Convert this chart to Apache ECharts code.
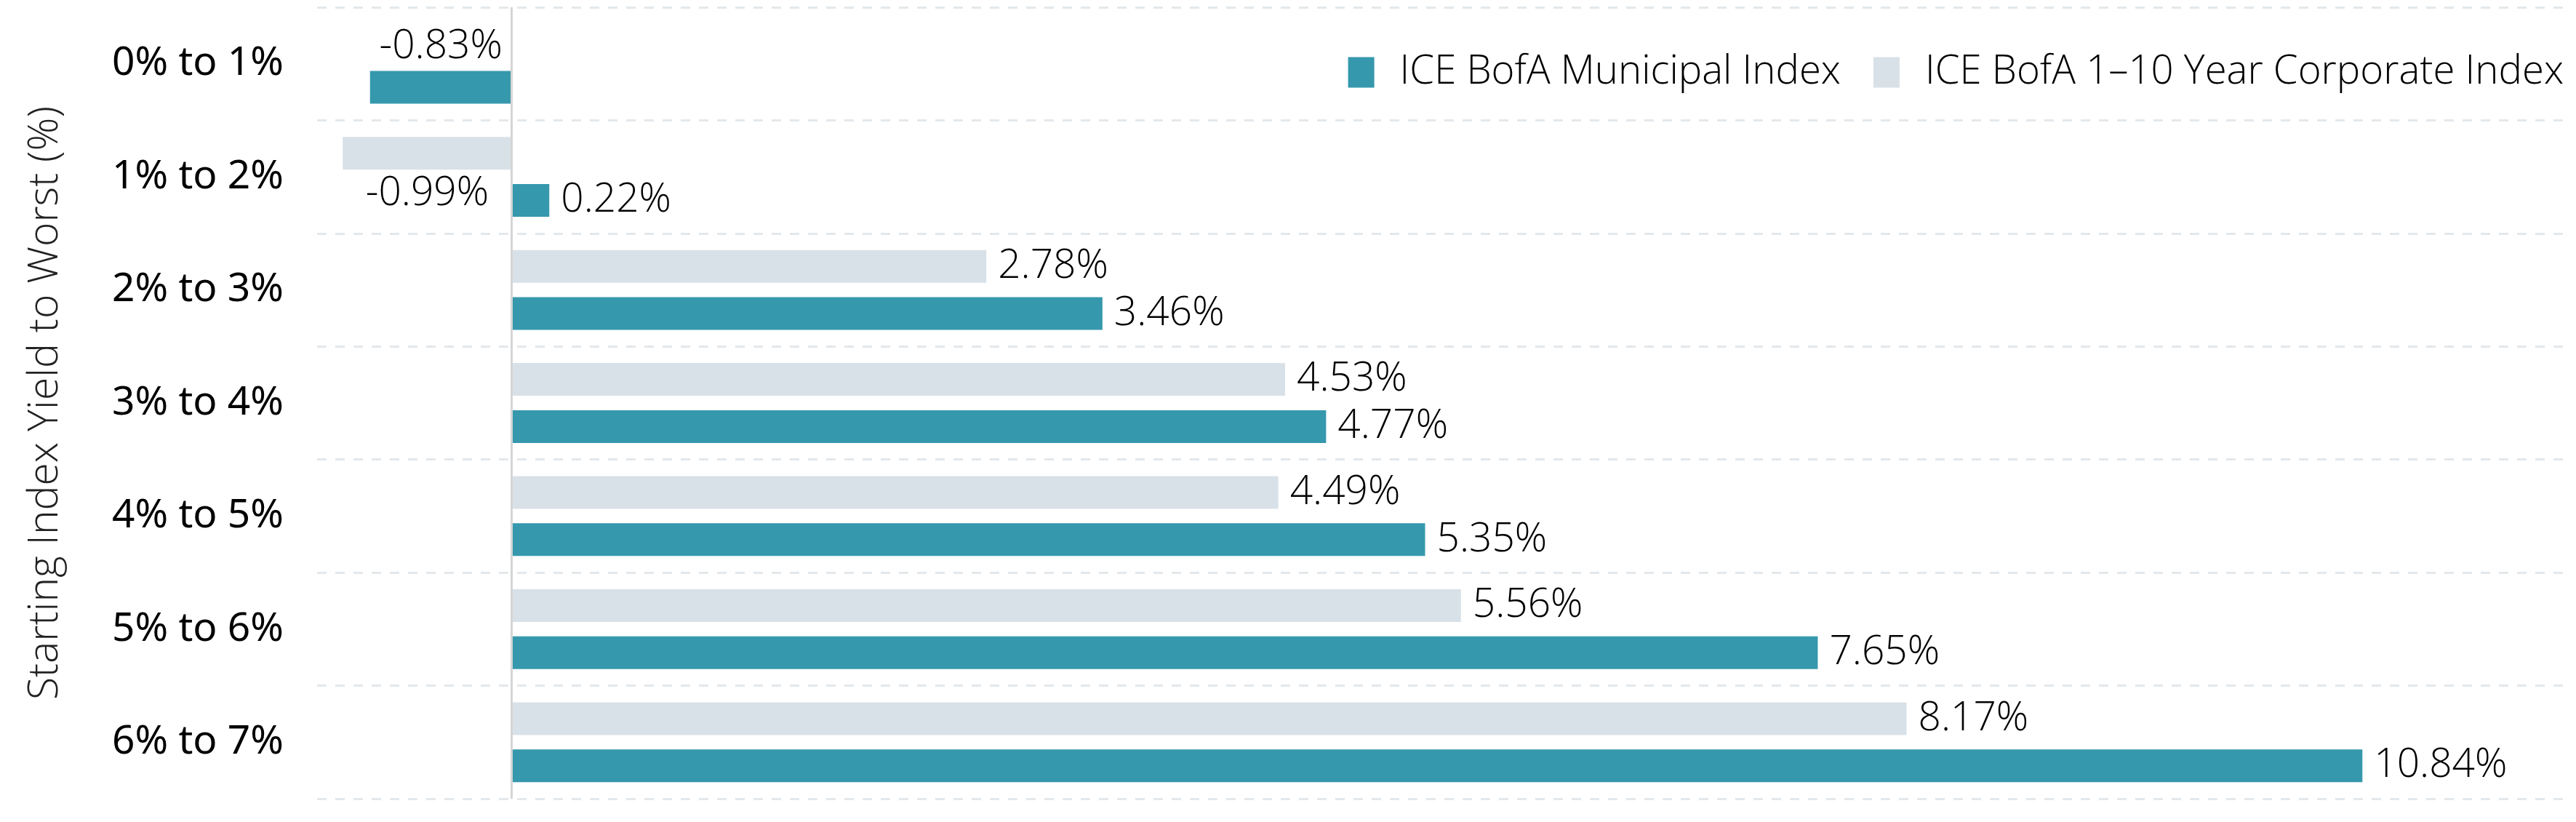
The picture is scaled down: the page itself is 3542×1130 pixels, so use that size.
<!DOCTYPE html>
<html>
<head>
<meta charset="utf-8">
<script src="https://cdn.jsdelivr.net/npm/echarts@6/dist/echarts.min.js"></script>
<style>
html,body{margin:0;padding:0;background:#fff;}
#chart{width:3542px;height:1130px;}
</style>
</head>
<body>
<div id="chart"></div>
<script>
const categories = ['0% to 1%', '1% to 2%', '2% to 3%', '3% to 4%', '4% to 5%', '5% to 6%', '6% to 7%'];
const municipal = [-0.83, 0.22, 3.46, 4.77, 5.35, 7.65, 10.84];
const corporate = [null, -0.99, 2.78, 4.53, 4.49, 5.56, 8.17];
const seriesNames = ['ICE BofA Municipal Index', 'ICE BofA 1\u201310 Year Corporate Index'];
const axisName = 'Starting Index Yield to Worst (%)';

const LIGHT = '"Open Sans", "Noto Sans", sans-serif';
const labelFont = {fontFamily: LIGHT, fontWeight: 300, fontSize: 55, color: '#000'};

function buildData(values, negPos) {
  return values.map(v => {
    if (v === null) return null;
    if (v < 0) {
      return {value: v, label: {position: negPos, distance: 6}};
    }
    return v;
  });
}

const chart = echarts.init(document.getElementById('chart'));
chart.setOption({
  animation: false,
  backgroundColor: '#fff',
  grid: {left: 436, right: 12, top: 10, bottom: 32, containLabel: false},
  legend: {
    data: seriesNames,
    right: 12,
    top: 67,
    icon: 'rect',
    itemWidth: 36,
    itemHeight: 42,
    itemGap: 45,
    textStyle: {fontFamily: LIGHT, fontWeight: 300, fontSize: 54.5, color: '#000', padding: [0, 0, 0, 30]}
  },
  xAxis: {
    type: 'value',
    min: -1.14,
    max: 12.04,
    show: false
  },
  yAxis: {
    type: 'category',
    data: categories,
    inverse: true,
    axisLine: {show: false},
    axisTick: {show: false},
    axisLabel: {fontFamily: '"Noto Sans", sans-serif', fontSize: 55, color: '#000', margin: 46},
    splitLine: {show: true, lineStyle: {color: '#E3E8EC', width: 3, type: [13, 12]}},
    name: axisName,
    nameLocation: 'middle',
    nameGap: 345,
    nameTextStyle: {fontFamily: LIGHT, fontWeight: 300, fontSize: 57, color: '#222'}
  },
  series: [
    {
      name: seriesNames[1],
      type: 'bar',
      data: buildData(corporate, 'bottom'),
      barWidth: 45,
      barGap: '44%',
      itemStyle: {color: '#D9E1E8'},
      label: Object.assign({show: true, position: 'right', distance: 16,
        formatter: p => p.value.toFixed(2) + '%'}, labelFont)
    },
    {
      name: seriesNames[0],
      type: 'bar',
      data: buildData(municipal, 'top'),
      barWidth: 45,
      barGap: '44%',
      itemStyle: {color: '#3698AD'},
      label: Object.assign({show: true, position: 'right', distance: 16,
        formatter: p => p.value.toFixed(2) + '%'}, labelFont),
      markLine: {
        silent: true,
        symbol: 'none',
        label: {show: false},
        lineStyle: {color: '#D5D5D5', width: 3, type: 'solid'},
        data: [{xAxis: 0}]
      }
    }
  ]
});
</script>
</body>
</html>
